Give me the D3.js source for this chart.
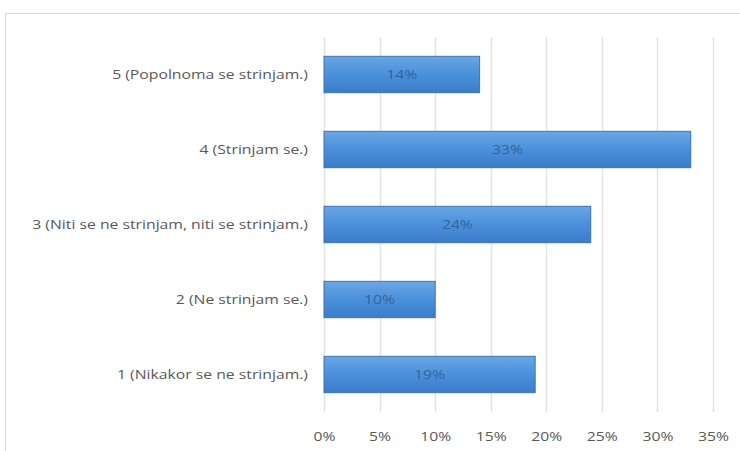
<!DOCTYPE html>
<html>
<head>
<meta charset="utf-8">
<script src="https://cdn.jsdelivr.net/npm/d3@7"></script>
<style>
  html, body { margin: 0; padding: 0; background: #ffffff; }
  svg { display: block; }
</style>
</head>
<body>
<div id="chart"></div>
<script>
// Survey answers on a 1–5 agreement scale, share of respondents (%)
const categories = [
  "5 (Popolnoma se strinjam.)",
  "4 (Strinjam se.)",
  "3 (Niti se ne strinjam, niti se strinjam.)",
  "2 (Ne strinjam se.)",
  "1 (Nikakor se ne strinjam.)"
];
const values = [14, 33, 24, 10, 19];
const tickValues = [0, 5, 10, 15, 20, 25, 30, 35];

const W = 740, H = 451;
const margin = { left: 324, right: 27, top: 37, bottom: 39 };
const FONT = "'Open Sans', 'Liberation Sans', sans-serif";
const FONT_SIZE = 12.5;
const STRETCH = 1.26; // wide, low-contrast label face

const svg = d3.select("#chart").append("svg")
  .attr("width", W).attr("height", H);

// chart frame
svg.append("rect")
  .attr("x", 5.5).attr("y", 13.5)
  .attr("width", W + 10).attr("height", H - 13)
  .attr("fill", "#ffffff").attr("stroke", "#d9d9d9").attr("stroke-width", 1);

const defs = svg.append("defs");
const grad = defs.append("linearGradient")
  .attr("id", "barFill").attr("x1", 0).attr("y1", 0).attr("x2", 0).attr("y2", 1);
grad.append("stop").attr("offset", "0%").attr("stop-color", "#6aa6e4");
grad.append("stop").attr("offset", "45%").attr("stop-color", "#4d92dc");
grad.append("stop").attr("offset", "100%").attr("stop-color", "#3a7cc8");

const x = d3.scaleLinear()
  .domain([0, 35])
  .range([margin.left, W - margin.right]);

const y = d3.scaleBand()
  .domain(categories)
  .range([margin.top, H - margin.bottom])
  .paddingInner(0.515)
  .paddingOuter(0.2575);

// place a text at (px, py), widened horizontally about its anchor
function placeText(sel, px, py) {
  sel.attr("x", 0).attr("y", 0)
    .attr("transform", (d, i) => `translate(${px(d, i)},${py(d, i)}) scale(${STRETCH},1)`)
    .attr("font-family", FONT)
    .attr("font-size", FONT_SIZE)
    .attr("dy", "0.35em");
}

// vertical gridlines
svg.append("g")
  .selectAll("line")
  .data(tickValues)
  .join("line")
  .attr("x1", d => Math.round(x(d)) + 0.5)
  .attr("x2", d => Math.round(x(d)) + 0.5)
  .attr("y1", margin.top)
  .attr("y2", H - margin.bottom)
  .attr("stroke", "#e3e3e3")
  .attr("stroke-width", 1.5);

// bars
svg.append("g")
  .selectAll("rect")
  .data(values)
  .join("rect")
  .attr("x", x(0))
  .attr("y", (d, i) => y(categories[i]))
  .attr("width", d => x(d) - x(0))
  .attr("height", y.bandwidth())
  .attr("fill", "url(#barFill)")
  .attr("stroke", "#3b74b4")
  .attr("stroke-width", 1);

// value labels centred in bars
svg.append("g")
  .selectAll("text")
  .data(values)
  .join("text")
  .call(placeText,
    d => (x(0) + x(d)) / 2,
    (d, i) => y(categories[i]) + y.bandwidth() / 2)
  .attr("text-anchor", "middle")
  .attr("fill", "#33649e")
  .text(d => d + "%");

// category axis labels
svg.append("g")
  .selectAll("text")
  .data(categories)
  .join("text")
  .call(placeText, () => 308, d => y(d) + y.bandwidth() / 2)
  .attr("text-anchor", "end")
  .attr("fill", "#595959")
  .text(d => d);

// value axis tick labels
const xAxis = d3.axisBottom(x)
  .tickValues(tickValues)
  .tickSize(0)
  .tickPadding(0)
  .tickFormat(d => d + "%");
const gx = svg.append("g")
  .attr("transform", "translate(0, 437)")
  .call(xAxis);
gx.select(".domain").remove();
gx.selectAll(".tick text")
  .attr("y", 0)
  .attr("dy", "0.35em")
  .attr("transform", `scale(${STRETCH},1)`)
  .attr("font-family", FONT)
  .attr("font-size", FONT_SIZE)
  .attr("fill", "#595959");
</script>
</body>
</html>
